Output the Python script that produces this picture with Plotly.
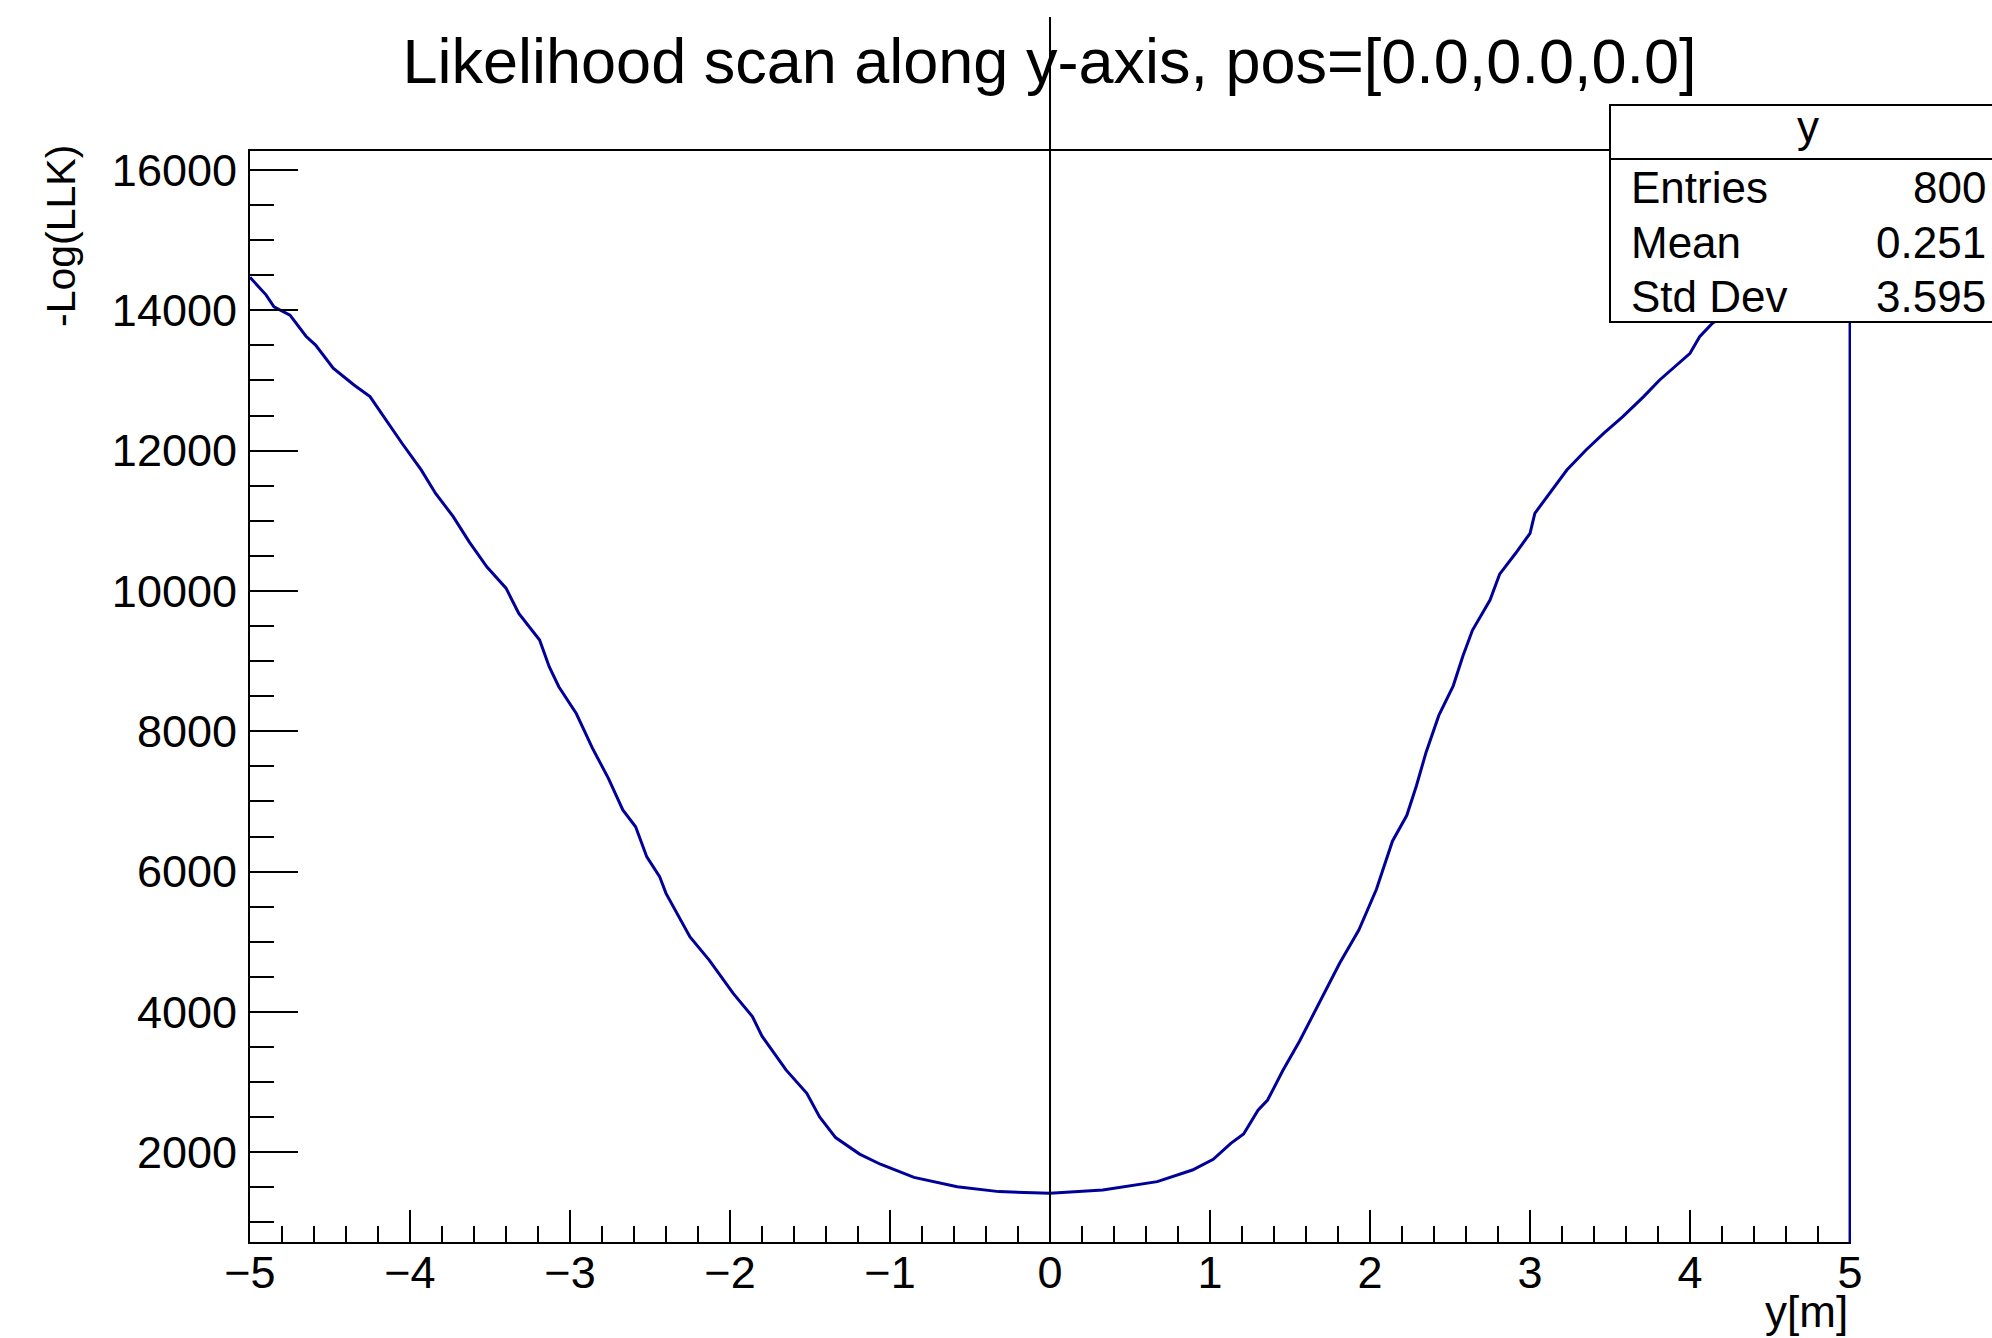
import plotly.graph_objects as go

# ---------------- data ----------------
title_text = "Likelihood scan along y-axis, pos=[0.0,0.0,0.0]"
x_title = "y[m]"
y_title = "-Log(LLK)"
stat_name = "y"
stat_labels = ["Entries", "Mean", "Std Dev"]
stat_values = ["800", "0.251", "3.595"]

y_pos = [-5.00, -4.90, -4.85, -4.75, -4.65, -4.59, -4.48, -4.35, -4.25, -4.13,
         -4.05, -3.93, -3.84, -3.73, -3.63, -3.52, -3.40, -3.32, -3.19, -3.13,
         -3.07, -2.96, -2.86, -2.76, -2.67, -2.59, -2.52, -2.44, -2.40, -2.25,
         -2.13, -1.98, -1.86, -1.80, -1.65, -1.52, -1.44, -1.34, -1.19, -1.06,
         -0.85, -0.58, -0.32, 0.00, 0.33, 0.67, 0.89, 1.02, 1.13, 1.21,
         1.30, 1.36, 1.455, 1.56, 1.68, 1.81, 1.93, 2.04, 2.14, 2.23,
         2.29, 2.35, 2.43, 2.52, 2.58, 2.64, 2.75, 2.81, 2.91, 3.00,
         3.03, 3.12, 3.23, 3.35, 3.46, 3.58, 3.71, 3.81, 3.93, 4.00,
         4.06, 4.14, 4.30, 4.50, 4.70, 4.90, 5.00]
llk = [14470, 14220, 14050, 13930, 13630, 13505, 13175, 12935, 12770, 12365,
       12105, 11725, 11390, 11060, 10700, 10345, 10040, 9680, 9300, 8920,
       8635, 8250, 7760, 7330, 6880, 6640, 6210, 5930, 5690, 5070,
       4740, 4265, 3935, 3655, 3175, 2840, 2505, 2210, 1975, 1830,
       1643, 1510, 1440, 1415, 1463, 1582, 1748, 1900, 2128, 2260,
       2600, 2745, 3166, 3586, 4113, 4694, 5168, 5748, 6434, 6803,
       7225, 7699, 8226, 8648, 9070, 9439, 9870, 10240, 10537, 10822,
       11107, 11392, 11724, 12009, 12247, 12484, 12769, 13007, 13245, 13387,
       13624, 13815, 14050, 14250, 14420, 14550, 14600]
# closing edge of the histogram outline at the upper end of the range
edge_x = [5.0]
edge_y = [0.0]

x_range = [-5, 5.006]
y_range = [722, 16270]

# ---------------- layout geometry ----------------
W, H = 1992, 1338
L, R, T, B = 250, 141, 151, 96
PW, PH = W - L - R, H - T - B


def px(xp):
    return (xp - L) / PW


def py(yp):
    return (H - B - yp) / PH


FONT = "Liberation Sans, Arial, Helvetica, sans-serif"
BLUE = "#000099"

fig = go.Figure()
fig.add_trace(go.Scatter(
    x=y_pos + edge_x, y=llk + edge_y, mode="lines",
    line=dict(color=BLUE, width=3), hoverinfo="skip", showlegend=False))

axis_common = dict(
    showgrid=False, zeroline=False, showline=True, linecolor="black",
    linewidth=2, ticks="inside", tickcolor="black", tickwidth=2,
    tickfont=dict(family=FONT, size=45, color="black"),
)

fig.update_xaxes(range=x_range, tick0=0, dtick=1, ticklen=32, mirror=True,
                 minor=dict(dtick=0.2, ticks="inside", ticklen=16,
                            tickwidth=2, tickcolor="black", showgrid=False),
                 ticklabelstandoff=-10,
                 **axis_common)
fig.update_yaxes(range=y_range, tick0=0, dtick=2000, ticklen=48, tickformat="d",
                 minor=dict(dtick=500, ticks="inside", ticklen=24,
                            tickwidth=2, tickcolor="black", showgrid=False),
                 ticklabelstandoff=2,
                 **axis_common)

shapes = [
    # vertical line at 0
    dict(type="line", xref="x", yref="paper", x0=0, x1=0, y0=0, y1=py(17),
         line=dict(color="black", width=2), layer="above"),
    # statistics box
    dict(type="rect", xref="paper", yref="paper", x0=px(1610), x1=px(2010),
         y0=py(322), y1=py(105), fillcolor="white",
         line=dict(color="black", width=2), layer="above"),
    dict(type="line", xref="paper", yref="paper", x0=px(1610), x1=px(2010),
         y0=py(159), y1=py(159), line=dict(color="black", width=2), layer="above"),
]

annotations = [
    dict(text=y_title, textangle=-90, x=px(61), y=py(236), xref="paper", yref="paper",
         xanchor="center", yanchor="middle", showarrow=False,
         font=dict(family=FONT, size=41, color="black")),
    dict(text=x_title, x=px(1850), y=py(1311), xref="paper", yref="paper",
         xanchor="right", yanchor="middle", showarrow=False,
         font=dict(family=FONT, size=44, color="black")),
    dict(text=stat_name, x=px(1808), y=py(127), xref="paper", yref="paper",
         xanchor="center", yanchor="middle", showarrow=False,
         font=dict(family=FONT, size=44, color="black")),
]
row_y = [187, 242, 296]
for lab, val, ry in zip(stat_labels, stat_values, row_y):
    annotations.append(dict(text=lab, x=px(1629), y=py(ry), xref="paper", yref="paper",
                            xanchor="left", yanchor="middle", showarrow=False,
                            font=dict(family=FONT, size=44, color="black")))
    annotations.append(dict(text=val, x=px(1988), y=py(ry), xref="paper", yref="paper",
                            xanchor="right", yanchor="middle", showarrow=False,
                            font=dict(family=FONT, size=44, color="black")))

fig.update_layout(
    width=W, height=H, autosize=False,
    margin=dict(l=L, r=R, t=T, b=B, pad=0),
    paper_bgcolor="white", plot_bgcolor="white",
    title=dict(text=title_text, x=1049.5 / W, xanchor="center", xref="container",
               y=1 - 61 / H, yanchor="middle", yref="container",
               font=dict(family=FONT, size=63, color="black")),
    shapes=shapes, annotations=annotations, showlegend=False,
)

fig.write_html("out.html")
